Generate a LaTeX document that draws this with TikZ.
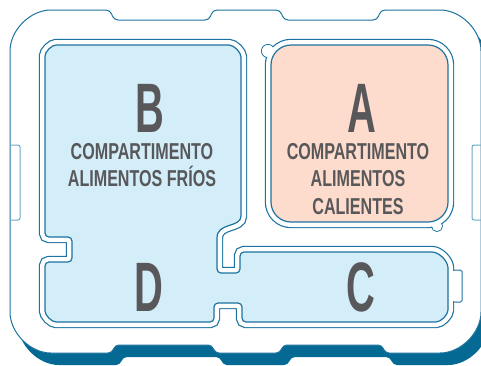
\documentclass[tikz,border=0pt]{standalone}
\usepackage{fontspec}
\newfontfamily\letterfont[FakeStretch=0.57]{Liberation Sans}
\newfontfamily\captionfont[FakeStretch=0.7]{Liberation Sans}
\definecolor{trayblue}{HTML}{1D73A0}
\definecolor{shadowblue}{HTML}{046A94}
\definecolor{tabblue}{HTML}{6AAAC6}
\definecolor{coldfill}{HTML}{D3EDF9}
\definecolor{hotfill}{HTML}{FDDCCD}
\definecolor{labelgrey}{HTML}{58585A}

\def\traypath{(10,55) arc[start angle=180,end angle=270,radius=45]
  -- (110,10) -- (114,20) -- (209,20) -- (213,10) -- (280,10) -- (284,20) -- (377,20) -- (381,10) -- (436,10)
  arc[start angle=270,end angle=360,radius=45] -- (481,308) arc[start angle=0,end angle=90,radius=45]
  -- (385,353) -- (382,345) -- (283,345) -- (280,353) -- (215,353) -- (212,345) -- (115,345) -- (112,353) -- (55,353)
  arc[start angle=90,end angle=180,radius=45] -- cycle}
\def\coldpath{(45,60) arc[start angle=180,end angle=270,radius=15]
  -- (225,45) arc[start angle=270,end angle=360,radius=16]
  -- (241,212) .. controls (241,228) and (217,222) .. (217,242)
  -- (217,273) -- (240,273) -- (240,252) -- (428,252) arc[start angle=270,end angle=360,radius=20]
  -- (448,306) arc[start angle=0,end angle=90,radius=16]
  -- (242,322) -- (242,303) -- (214,303) -- (214,322) -- (60,322) arc[start angle=90,end angle=180,radius=15]
  -- (45,262) -- (72,262) -- (72,237) -- (45,237) -- cycle}
\def\hotpath{(271,45) rectangle (448,222)}

\begin{document}
\begin{tikzpicture}[x=1pt,y=-1pt,node distance=27.5pt,
    tray/.style={draw=trayblue,line width=1pt,fill=white,rounded corners=4},
    tabline/.style={draw=tabblue,line width=1pt,rounded corners=2},
    ringdark/.style={draw=trayblue,line width=12.4pt,rounded corners=4},
    ringwhite/.style={draw=white,line width=10pt,rounded corners=4},
    innerline/.style={draw=trayblue,line width=1.2pt,rounded corners=4},
    letter/.style={font=\letterfont\bfseries\fontsize{70}{70}\selectfont,text=labelgrey,inner sep=0pt,text height=50pt,text depth=0pt},
    caption/.style={font=\captionfont\bfseries\fontsize{23}{23}\selectfont,text=labelgrey,inner sep=0pt,text height=16.5pt,text depth=0pt}]
  \useasboundingbox (0,0) rectangle (481,365);
  \clip (0,0) rectangle (481,365);

  \fill[shadowblue,rounded corners=4,shift={(8,12)}] \traypath;
  \path[tray] \traypath;
  \draw[tabline] (10,145) -- (20,145) -- (20,220) -- (10,220);
  \draw[tabline] (481,145) -- (472,145) -- (472,220) -- (481,220);

  \path[ringdark] \coldpath;
  \path[ringwhite] \coldpath;
  \fill[white] (449.5,271) rectangle (461.5,301);
  \draw[draw=trayblue,line width=1pt,rounded corners=1.5] (453,270) -- (462,270) -- (462,302) -- (453,302);
  \path[innerline,fill=coldfill] \coldpath;

  \draw[draw=trayblue,line width=1pt,fill=white] (268,51) circle (6.5);
  \draw[draw=trayblue,line width=1pt,fill=white] (437,226) circle (5.5);
  \path[ringdark,rounded corners=20] \hotpath;
  \path[ringwhite,rounded corners=20] \hotpath;
  \fill[white] (268,51) circle (6);
  \fill[white] (437,226) circle (5);
  \path[innerline,rounded corners=20,fill=hotfill] \hotpath;

  \node[letter] (b) at (150,107) {B};
  \node[caption] (b1) at (142,151) {COMPARTIMENTO};
  \node[caption] (b2) [below of=b1] {ALIMENTOS FRÍOS};
  \node[letter] (a) at (362,107) {A};
  \node[caption] (a1) at (358,151) {COMPARTIMENTO};
  \node[caption] (a2) [below of=a1] {ALIMENTOS};
  \node[caption] (a3) [below of=a2] {CALIENTES};
  \node[letter] (d) at (149,286) {D};
  \node[letter] (c) at (361,286) {C};
\end{tikzpicture}
\end{document}
